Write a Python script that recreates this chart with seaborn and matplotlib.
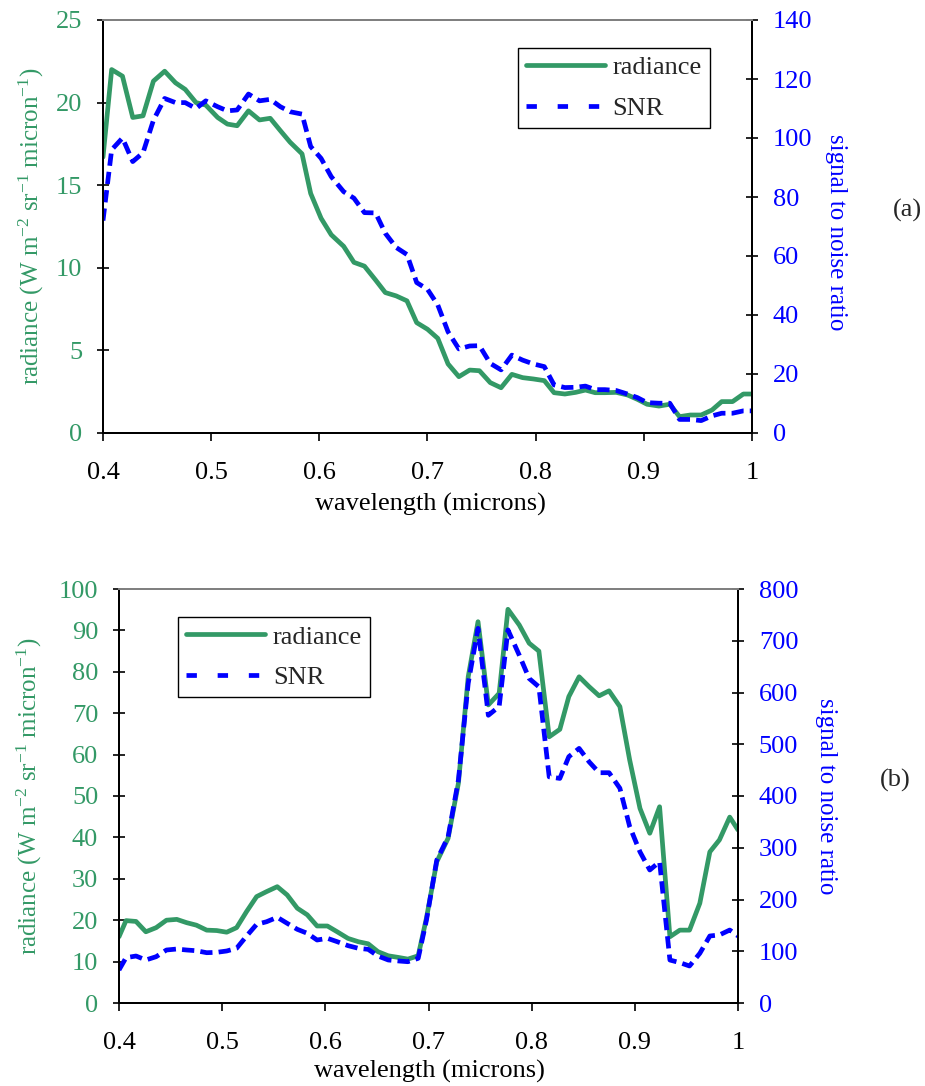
import matplotlib
matplotlib.use("Agg")
import matplotlib.pyplot as plt
import matplotlib.ticker as mticker
from matplotlib.lines import Line2D
import seaborn as sns
import pandas as pd

# ---------------- data ----------------
wl_a = [0.400, 0.408, 0.418, 0.4275, 0.437, 0.4466, 0.457, 0.467, 0.476, 0.486,
        0.495, 0.506, 0.515, 0.524, 0.5345, 0.5447, 0.5546, 0.564, 0.573, 0.584,
        0.592, 0.6016, 0.611, 0.6225, 0.632, 0.6417, 0.652, 0.661, 0.671, 0.681,
        0.690, 0.700, 0.7095, 0.719, 0.729, 0.739, 0.748, 0.758, 0.768, 0.778,
        0.788, 0.798, 0.808, 0.817, 0.827, 0.837, 0.846, 0.855, 0.864, 0.8745,
        0.885, 0.894, 0.903, 0.914, 0.924, 0.933, 0.943, 0.953, 0.963, 0.972,
        0.982, 0.992, 1.0]
radiance_a = [16.7, 22.0, 21.6, 19.1, 19.2, 21.3, 21.9, 21.2, 20.8, 20.0,
              19.85, 19.1, 18.7, 18.6, 19.5, 18.95, 19.05, 18.3, 17.6, 16.9,
              14.5, 13.0, 12.0, 11.3, 10.33, 10.1, 9.26, 8.5, 8.3, 8.0,
              6.68, 6.28, 5.73, 4.18, 3.41, 3.81, 3.77, 3.05, 2.74, 3.55,
              3.35, 3.27, 3.17, 2.44, 2.36, 2.46, 2.6, 2.44, 2.44, 2.46,
              2.3, 2.04, 1.74, 1.63, 1.74, 0.99, 1.09, 1.09, 1.39, 1.9,
              1.9, 2.36, 2.36]
snr_a = [72, 96, 100, 92, 95, 106, 113.4, 112, 112, 110,
         112.6, 110.6, 109.2, 109.5, 114.9, 112.6, 113.1, 110.6, 108.9, 108.1,
         97.1, 93.1, 86.9, 81.8, 79.6, 74.7, 74.6, 67.7, 62.9, 60.5,
         51, 48.7, 43.4, 34.3, 28.5, 29.5, 29.6, 23.6, 21.4, 26.4,
         24.7, 23.4, 22.5, 16.3, 15.4, 15.5, 15.9, 14.7, 14.7, 14.4,
         13.2, 12.0, 10.3, 10.1, 10.1, 4.6, 4.6, 4.2, 5.8, 6.7,
         6.7, 7.5, 7.5]

wl_b = [0.400, 0.4068, 0.4165, 0.426, 0.436, 0.446, 0.456, 0.4656, 0.475, 0.485,
        0.4947, 0.5044, 0.514, 0.5237, 0.5334, 0.543, 0.5534, 0.563, 0.5728, 0.5825,
        0.592, 0.602, 0.6115, 0.622, 0.632, 0.6415, 0.651, 0.661, 0.671, 0.680,
        0.690, 0.698, 0.708, 0.719, 0.729, 0.7385, 0.748, 0.758, 0.7685, 0.777,
        0.788, 0.7976, 0.807, 0.817, 0.8273, 0.836, 0.846, 0.8557, 0.8654, 0.875,
        0.8855, 0.895, 0.905, 0.9145, 0.924, 0.934, 0.9436, 0.953, 0.963, 0.9727,
        0.982, 0.992, 1.0]
radiance_b = [16.0, 19.9, 19.7, 17.2, 18.2, 20.0, 20.2, 19.4, 18.8, 17.6,
              17.5, 17.1, 18.2, 22.1, 25.7, 26.9, 28.1, 26.1, 22.9, 21.3,
              18.6, 18.6, 17.2, 15.6, 14.8, 14.3, 12.4, 11.4, 11.0, 10.6,
              11.4, 20.5, 34.1, 39.8, 53.1, 78.8, 92.1, 72.0, 74.8, 95.1,
              91.3, 86.9, 85.0, 64.3, 66.1, 74.0, 78.8, 76.4, 74.2, 75.4,
              71.6, 58.7, 47.0, 41.0, 47.4, 16.0, 17.6, 17.6, 24.1, 36.5,
              39.4, 44.9, 41.8]
snr_b = [63.8, 87.6, 90.8, 83.1, 89.5, 102.4, 104.3, 102.4, 101, 97.2,
         97.9, 100.5, 105.7, 129.5, 152, 157, 165.6, 154, 142.4, 134.7,
         121.7, 125, 118.5, 110.8, 105.7, 103.7, 90.8, 83.1, 81.2, 79.8,
         86.3, 160, 276, 321, 431, 618, 724, 556, 573, 721,
         672, 627, 611, 437, 434, 476, 492, 466, 445, 445,
         415, 341, 292, 257, 273, 83, 78, 71.5, 96, 129.5,
         131.5, 141, 129.5]

x_ticks = [0.4, 0.5, 0.6, 0.7, 0.8, 0.9, 1.0]
rad_ticks_a = [0, 5, 10, 15, 20, 25]
snr_ticks_a = [0, 20, 40, 60, 80, 100, 120, 140]
rad_ticks_b = [0, 10, 20, 30, 40, 50, 60, 70, 80, 90, 100]
snr_ticks_b = [0, 100, 200, 300, 400, 500, 600, 700, 800]

# ---------------- style ----------------
sns.set_style("ticks")
plt.rcParams['font.family'] = ['Liberation Serif', 'DejaVu Serif']
plt.rcParams['mathtext.fontset'] = 'custom'
plt.rcParams['mathtext.rm'] = 'Liberation Serif'
plt.rcParams['mathtext.it'] = 'Liberation Serif:italic'
plt.rcParams['axes.unicode_minus'] = False

GREEN = '#339966'
BLUE = '#0000FF'
FS = 19
FS_YLAB = 18

fig = plt.figure(figsize=(9.25, 10.86), dpi=100)
W, H = 925, 1086

def make_panel(rect, wl, rad, snr, rticks, sticks, legend_anchor, lab_coords, tag, tag_xy):
    left, top, right, bottom = rect
    ax = fig.add_axes([left / W, 1 - bottom / H, (right - left) / W, (bottom - top) / H])
    ax2 = ax.twinx()
    df = pd.DataFrame({'wavelength': wl, 'radiance': rad, 'snr': snr})
    sns.lineplot(data=df, x='wavelength', y='radiance', ax=ax, color=GREEN,
                 linewidth=3.4, legend=False)
    sns.lineplot(data=df, x='wavelength', y='snr', ax=ax2, color=BLUE,
                 linewidth=3.4, legend=False)
    ax2.lines[0].set_dashes((2.6, 1.3))
    ax.set_xlim(0.4, 1.0)
    ax.set_ylim(rticks[0], rticks[-1])
    ax2.set_ylim(sticks[0], sticks[-1])
    ax.set_xticks(x_ticks)
    ax.xaxis.set_major_formatter(mticker.FuncFormatter(lambda v, p: '%g' % round(v, 2)))
    ax.set_yticks(rticks)
    ax2.set_yticks(sticks)
    ax.tick_params(axis='x', direction='out', length=6, width=1.2, pad=15,
                   labelsize=FS, colors='black')
    ax.tick_params(axis='y', direction='inout', length=8, width=1.2, pad=11,
                   labelsize=FS, labelcolor=GREEN, color='black')
    ax2.tick_params(axis='y', direction='inout', length=8, width=1.2, pad=11,
                    labelsize=FS, labelcolor=BLUE, color='black')
    for a in (ax, ax2):
        for s in ('left', 'right', 'bottom'):
            a.spines[s].set_visible(True)
            a.spines[s].set_color('black')
            a.spines[s].set_linewidth(1.4)
        a.spines['top'].set_visible(True)
        a.spines['top'].set_color('#808080')
        a.spines['top'].set_linewidth(1.4)
    ax.set_xlabel('wavelength (microns)', fontsize=FS, color='black')
    ax.set_ylabel('radiance (W m$^{-2}$ sr$^{-1}$ micron$^{-1}$)', fontsize=FS_YLAB, color=GREEN)
    ax2.set_ylabel('signal to noise ratio', fontsize=FS_YLAB, color=BLUE, rotation=270)
    ax.xaxis.set_label_coords(*lab_coords[0])
    ax.yaxis.set_label_coords(*lab_coords[1])
    ax2.yaxis.set_label_coords(*lab_coords[2])
    for lab in (ax.yaxis.label, ax2.yaxis.label, ax.xaxis.label):
        lab.set_va('center')
        lab.set_ha('center')
    handles = [Line2D([], [], color=GREEN, linewidth=3.4),
               Line2D([], [], color=BLUE, linewidth=3.4, dashes=(2.2, 4.4))]
    leg = ax2.legend(handles, ['radiance', 'SNR'], loc='upper left',
                     bbox_to_anchor=legend_anchor, borderaxespad=0, fontsize=FS,
                     frameon=True, fancybox=False, shadow=False, handlelength=3.0,
                     handletextpad=0.3, labelspacing=0.65, borderpad=0.3)
    leg.get_frame().set_edgecolor('black')
    leg.get_frame().set_linewidth(1.0)
    leg.get_frame().set_alpha(1)
    fig.text(tag_xy[0] / W, 1 - tag_xy[1] / H, tag, fontsize=FS, ha='center', va='center')
    return ax, ax2

make_panel((103, 20, 752, 433), wl_a, radiance_a, snr_a, rad_ticks_a, snr_ticks_a,
           (0.639, 0.932), [(0.504, -0.172), (-0.111, 0.5), (1.129, 0.487)],
           '(a)', (907, 210))
make_panel((119, 589, 738, 1003), wl_b, radiance_b, snr_b, rad_ticks_b, snr_ticks_b,
           (0.0953, 0.932), [(0.502, -0.166), (-0.145, 0.5), (1.142, 0.5)],
           '(b)', (895, 780))

fig.savefig('out.png', dpi=100)
